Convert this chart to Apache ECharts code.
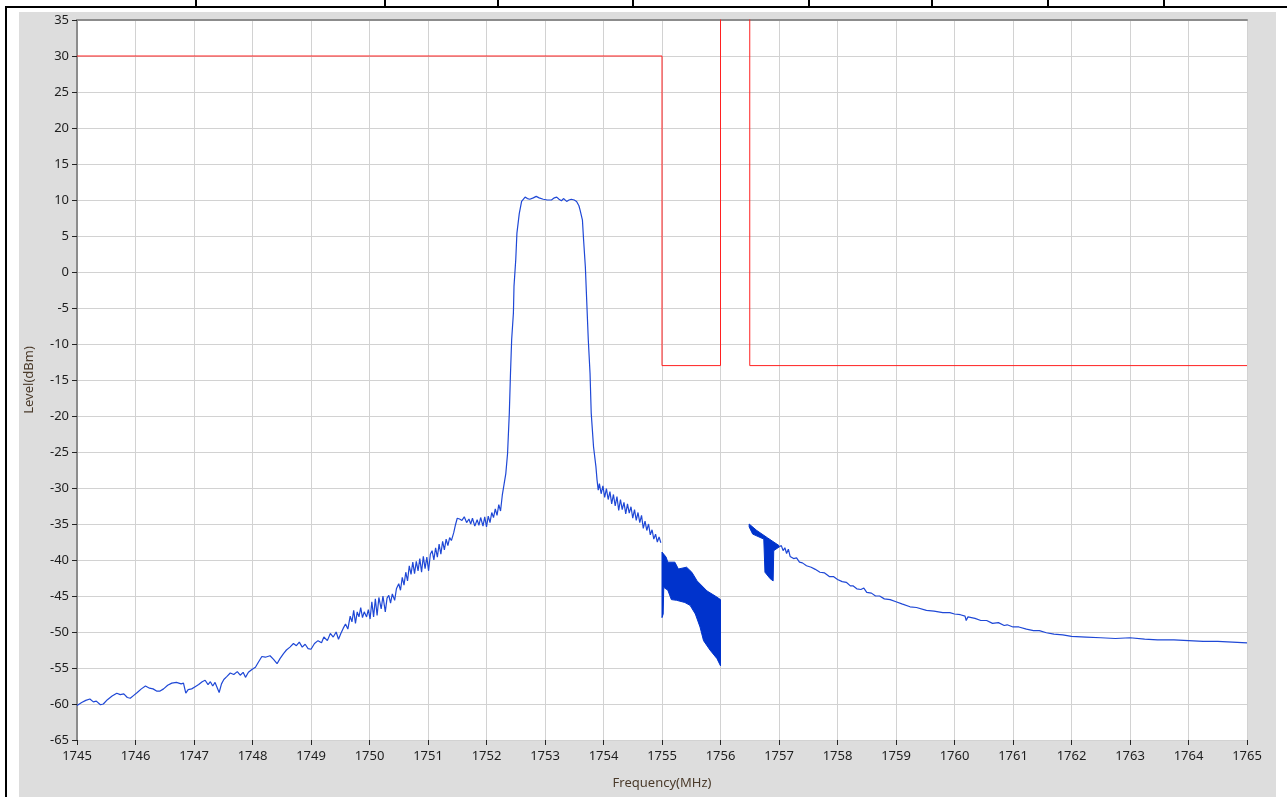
<!DOCTYPE html>
<html>
<head>
<meta charset="utf-8">
<script src="https://cdn.jsdelivr.net/npm/echarts@6/dist/echarts.min.js"></script>
<style>
  html, body { margin: 0; padding: 0; background: #fff; }
  #chart { width: 1287px; height: 797px; }
</style>
</head>
<body>
<div id="chart"></div>
<script>
// x ticks / y ticks
var freqMin = 1745, freqMax = 1765;
var levelMin = -65, levelMax = 35;

// Spectrum trace left of the gap (MHz, dBm)
var traceLeft = [
  [1745.00,-60.2],[1745.08,-59.8],[1745.15,-59.5],[1745.22,-59.3],[1745.28,-59.7],[1745.33,-59.6],
  [1745.40,-60.1],[1745.45,-60.0],[1745.52,-59.4],[1745.60,-58.9],[1745.68,-58.5],[1745.74,-58.7],
  [1745.80,-58.6],[1745.86,-59.1],[1745.91,-59.2],[1745.97,-58.8],[1746.03,-58.4],[1746.10,-57.9],
  [1746.17,-57.5],[1746.24,-57.8],[1746.30,-57.9],[1746.36,-58.2],[1746.42,-58.2],[1746.48,-57.9],
  [1746.55,-57.4],[1746.62,-57.1],[1746.70,-57.0],[1746.78,-57.2],[1746.82,-57.1],[1746.86,-58.5],
  [1746.90,-58.0],[1746.96,-57.9],[1747.02,-57.6],[1747.08,-57.3],[1747.14,-56.9],[1747.19,-56.7],
  [1747.24,-57.3],[1747.28,-56.9],[1747.32,-57.5],[1747.36,-57.0],[1747.40,-57.8],[1747.43,-58.4],
  [1747.47,-57.2],[1747.51,-56.6],[1747.56,-56.2],[1747.62,-55.7],[1747.68,-55.9],[1747.74,-55.5],
  [1747.79,-56.0],[1747.84,-55.6],[1747.88,-56.3],[1747.93,-55.6],[1747.99,-55.2],[1748.05,-54.9],
  [1748.10,-54.2],[1748.16,-53.4],[1748.22,-53.5],[1748.30,-53.3],[1748.36,-53.8],[1748.42,-54.4],
  [1748.47,-53.7],[1748.53,-53.0],[1748.58,-52.5],[1748.64,-52.1],[1748.70,-51.6],[1748.75,-51.9],
  [1748.80,-51.4],[1748.85,-52.1],[1748.90,-51.7],[1748.95,-52.3],[1749.00,-52.4],[1749.06,-51.6],
  [1749.12,-51.2],[1749.18,-51.5],[1749.22,-50.7],[1749.28,-51.2],[1749.33,-50.2],[1749.38,-50.7],
  [1749.43,-50.0],[1749.47,-51.0],[1749.51,-50.2],[1749.55,-49.5],[1749.59,-48.9],[1749.63,-49.6],
  [1749.67,-47.8],[1749.70,-48.6],[1749.73,-47.0],[1749.76,-48.8],[1749.79,-47.2],[1749.82,-47.9],
  [1749.85,-46.6],[1749.88,-48.0],[1749.91,-47.2],[1749.95,-47.9],[1749.98,-46.9],[1750.01,-48.2],
  [1750.04,-45.8],[1750.07,-47.9],[1750.10,-45.4],[1750.13,-47.7],[1750.16,-45.2],[1750.20,-46.8],
  [1750.23,-45.0],[1750.27,-47.2],[1750.30,-45.3],[1750.33,-44.9],[1750.36,-46.0],[1750.39,-44.7],
  [1750.43,-45.6],[1750.46,-44.0],[1750.50,-43.3],[1750.53,-44.2],[1750.56,-42.4],[1750.59,-43.5],
  [1750.62,-41.7],[1750.65,-42.9],[1750.68,-40.8],[1750.71,-42.0],[1750.74,-40.3],[1750.77,-41.9],
  [1750.80,-40.2],[1750.83,-41.5],[1750.86,-39.8],[1750.89,-41.7],[1750.92,-39.5],[1750.95,-41.2],
  [1750.98,-39.6],[1751.01,-41.5],[1751.04,-39.2],[1751.07,-38.7],[1751.10,-40.0],[1751.13,-38.3],
  [1751.16,-39.6],[1751.19,-37.8],[1751.22,-39.2],[1751.25,-37.4],[1751.28,-38.6],[1751.31,-37.1],
  [1751.34,-38.0],[1751.37,-36.9],[1751.40,-37.3],[1751.44,-36.2],[1751.47,-35.1],[1751.50,-34.2],
  [1751.54,-34.3],[1751.58,-34.5],[1751.62,-34.0],[1751.66,-34.8],[1751.70,-34.3],[1751.73,-35.0],
  [1751.76,-34.2],[1751.80,-35.3],[1751.84,-34.4],[1751.87,-35.2],[1751.90,-34.1],[1751.94,-35.3],
  [1751.97,-34.0],[1752.00,-35.4],[1752.03,-33.9],[1752.06,-34.8],[1752.09,-33.4],[1752.12,-34.1],
  [1752.15,-32.9],[1752.18,-33.8],[1752.21,-32.3],[1752.24,-33.2],[1752.27,-31.0],[1752.30,-29.5],
  [1752.33,-28.0],[1752.36,-25.2],[1752.39,-19.6],[1752.41,-14.1],[1752.43,-9.4],[1752.46,-5.7],
  [1752.47,-2.0],[1752.50,1.7],[1752.52,5.4],[1752.56,8.1],[1752.60,9.8],[1752.66,10.4],
  [1752.70,10.2],[1752.74,10.1],[1752.80,10.3],[1752.85,10.5],[1752.90,10.3],[1752.97,10.1],
  [1753.04,10.0],[1753.11,10.0],[1753.16,10.3],[1753.20,10.4],[1753.24,10.1],[1753.28,9.9],
  [1753.32,10.2],[1753.37,9.8],[1753.41,10.0],[1753.45,10.1],[1753.50,10.0],[1753.54,9.8],
  [1753.58,9.2],[1753.60,8.6],[1753.64,7.2],[1753.66,4.4],[1753.69,0.7],[1753.71,-3.4],
  [1753.74,-9.4],[1753.77,-14.1],[1753.79,-19.6],[1753.83,-24.3],[1753.87,-27.0],[1753.89,-28.9],
  [1753.91,-30.3],[1753.93,-29.4],[1753.96,-30.8],[1753.99,-29.7],[1754.02,-31.3],[1754.05,-30.1],
  [1754.08,-31.6],[1754.11,-30.5],[1754.14,-32.2],[1754.17,-30.9],[1754.20,-32.5],[1754.23,-31.2],
  [1754.26,-33.1],[1754.29,-31.6],[1754.32,-33.0],[1754.35,-32.0],[1754.38,-33.6],[1754.41,-32.2],
  [1754.44,-33.5],[1754.47,-32.6],[1754.50,-34.2],[1754.53,-33.0],[1754.56,-34.5],[1754.59,-33.4],
  [1754.62,-34.8],[1754.65,-33.8],[1754.68,-35.6],[1754.71,-34.6],[1754.74,-35.9],[1754.77,-35.0],
  [1754.80,-36.5],[1754.83,-35.8],[1754.86,-37.1],[1754.89,-36.4],[1754.92,-37.5],[1754.95,-36.8],
  [1754.98,-37.6]
];

// Spectrum trace right of the gap
var traceRight = [
  [1757.00,-38.2],[1757.04,-38.0],[1757.07,-38.7],[1757.10,-38.3],[1757.13,-39.1],[1757.16,-38.5],
  [1757.19,-39.5],[1757.22,-39.3],[1757.25,-39.8],[1757.30,-39.7],[1757.35,-40.3],[1757.40,-40.4],
  [1757.47,-40.8],[1757.55,-41.0],[1757.62,-41.3],[1757.70,-41.7],[1757.78,-41.8],[1757.86,-42.3],
  [1757.93,-42.3],[1758.00,-42.7],[1758.08,-43.0],[1758.15,-43.1],[1758.22,-43.6],[1758.27,-43.6],
  [1758.33,-44.0],[1758.40,-44.1],[1758.45,-43.9],[1758.50,-44.5],[1758.58,-44.6],[1758.65,-45.0],
  [1758.72,-45.0],[1758.80,-45.4],[1758.90,-45.5],[1759.00,-45.8],[1759.10,-46.1],[1759.24,-46.5],
  [1759.35,-46.6],[1759.52,-47.0],[1759.65,-47.1],[1759.80,-47.3],[1759.92,-47.3],[1760.00,-47.5],
  [1760.10,-47.6],[1760.18,-47.8],[1760.20,-48.4],[1760.23,-47.9],[1760.35,-48.1],[1760.45,-48.4],
  [1760.55,-48.4],[1760.65,-48.8],[1760.75,-48.7],[1760.85,-49.1],[1760.90,-49.0],[1761.00,-49.3],
  [1761.10,-49.3],[1761.23,-49.6],[1761.35,-49.8],[1761.45,-49.8],[1761.57,-50.1],[1761.70,-50.3],
  [1761.85,-50.4],[1762.00,-50.6],[1762.25,-50.7],[1762.50,-50.8],[1762.75,-50.9],[1763.00,-50.8],
  [1763.25,-51.0],[1763.47,-51.1],[1763.75,-51.1],[1764.00,-51.2],[1764.25,-51.3],[1764.50,-51.3],
  [1764.75,-51.4],[1765.00,-51.5]
];

// Dense (filled) parts of the trace: upper / lower envelopes
var band1Upper = [[1755.00,-38.9],[1755.07,-39.6],[1755.10,-40.3],[1755.22,-40.3],[1755.28,-41.25],[1755.42,-41.0],
  [1755.51,-41.7],[1755.60,-42.9],[1755.77,-44.3],[1755.91,-45.0],[1756.00,-45.5]];
var band1Lower = [[1755.00,-48.0],[1755.02,-47.5],[1755.03,-43.8],[1755.10,-44.2],[1755.16,-45.5],[1755.25,-45.6],
  [1755.39,-45.9],[1755.48,-46.3],[1755.57,-47.5],[1755.65,-49.3],[1755.71,-51.2],[1755.82,-52.5],
  [1755.94,-53.7],[1756.00,-54.7]];
var band2Upper = [[1756.49,-35.0],[1756.62,-35.9],[1756.80,-36.9],[1757.00,-38.0]];
var band2Lower = [[1756.49,-35.4],[1756.55,-36.4],[1756.74,-37.1],[1756.76,-41.7],[1756.85,-42.6],
  [1756.90,-42.9],[1756.91,-38.7],[1757.00,-38.2]];

// Limit mask (red)
var maskLine = [[1745,30],[1755,30],[1755,-13],[1756,-13],[1756,45],[1756.5,45],[1756.5,-13],[1765,-13]];

// Top table row dividers (decoration)
var headerDividers = [195, 384, 497, 632, 808, 931, 1047, 1163];

var chartDom = document.getElementById('chart');
var myChart = echarts.init(chartDom);

function bandSeries(upper, lower) {
  return {
    type: 'custom',
    data: [upper[0]],
    silent: true,
    z: 3,
    renderItem: function (params, api) {
      var pts = [];
      upper.forEach(function (p) { pts.push(api.coord(p)); });
      lower.slice().reverse().forEach(function (p) { pts.push(api.coord(p)); });
      return {
        type: 'polygon',
        shape: { points: pts },
        style: { fill: '#0033cc', stroke: '#0033cc', lineWidth: 1 }
      };
    }
  };
}

var graphics = [
  { type: 'rect', z: -10, shape: { x: 19, y: 12, width: 1257, height: 785 }, style: { fill: '#dddddd' } },
  { type: 'rect', z: -10, shape: { x: 5, y: 6, width: 1282, height: 2 }, style: { fill: '#000' } },
  { type: 'rect', z: -10, shape: { x: 5, y: 6, width: 2, height: 791 }, style: { fill: '#000' } }
];
headerDividers.forEach(function (x) {
  graphics.push({ type: 'rect', z: -10, shape: { x: x, y: 0, width: 2, height: 7 }, style: { fill: '#000' } });
});

var labelFont = { color: '#1e1e1e', fontSize: 13, fontFamily: 'Noto Sans' };

var option = {
  animation: false,
  graphic: graphics,
  grid: {
    left: 77, right: 40, top: 20, bottom: 57,
    show: true, backgroundColor: '#ffffff', borderWidth: 0
  },
  xAxis: [
    {
      type: 'value',
      min: freqMin, max: freqMax, interval: 1,
      name: 'Frequency(MHz)',
      nameLocation: 'middle',
      nameGap: 37,
      nameTextStyle: { color: '#4a3a2a', fontSize: 13, fontFamily: 'Noto Sans' },
      axisLine: { show: false, onZero: false },
      axisTick: { show: true, length: 5, lineStyle: { color: '#222', width: 1 } },
      axisLabel: Object.assign({ margin: 10, formatter: function (v) { return String(v); } }, labelFont),
      splitLine: { show: true, lineStyle: { color: '#d2d2d2', width: 1 } }
    },
    {
      type: 'value', position: 'top',
      min: freqMin, max: freqMax,
      axisLine: { show: true, onZero: false, lineStyle: { color: '#8c8c8c', width: 2 } },
      axisTick: { show: false }, axisLabel: { show: false }, splitLine: { show: false }
    }
  ],
  yAxis: {
    type: 'value',
    min: levelMin, max: levelMax, interval: 5,
    name: 'Level(dBm)',
    nameLocation: 'middle',
    nameGap: 41,
    nameTextStyle: { color: '#4a3a2a', fontSize: 13, fontFamily: 'Noto Sans' },
    axisLine: { show: true, onZero: false, lineStyle: { color: '#8c8c8c', width: 2 } },
    axisTick: { show: true, length: 5, lineStyle: { color: '#222', width: 1 } },
    axisLabel: Object.assign({ margin: 8 }, labelFont),
    splitLine: { show: true, lineStyle: { color: '#d2d2d2', width: 1 } }
  },
  series: [
    {
      type: 'line', data: maskLine, showSymbol: false, clip: true,
      lineStyle: { color: '#ff2020', width: 1 }, z: 2
    },
    {
      type: 'line', data: traceLeft, showSymbol: false,
      lineStyle: { color: '#1f48d6', width: 1.2 }, z: 3
    },
    {
      type: 'line', data: traceRight, showSymbol: false,
      lineStyle: { color: '#1f48d6', width: 1.2 }, z: 3
    },
    bandSeries(band1Upper, band1Lower),
    bandSeries(band2Upper, band2Lower)
  ]
};

option && myChart.setOption(option);
</script>
</body>
</html>
